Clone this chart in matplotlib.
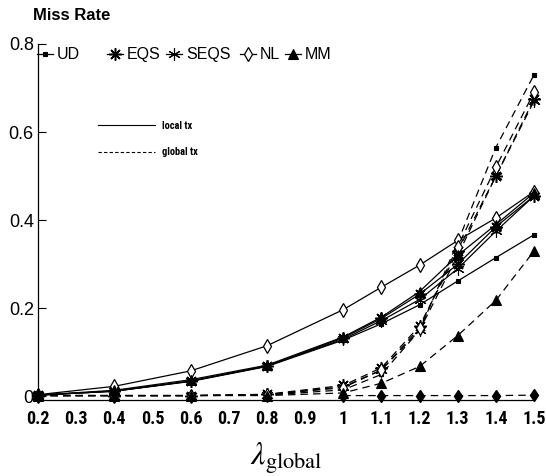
import matplotlib
matplotlib.use('Agg')
import matplotlib.pyplot as plt
from matplotlib.lines import Line2D
from matplotlib import font_manager as fm

# ---- data ----
lam = [0.2, 0.4, 0.6, 0.8, 1.0, 1.1, 1.2, 1.3, 1.4, 1.5]
methods = ['UD', 'EQS', 'SEQS', 'NL', 'MM']

ud_local   = [0.003, 0.012, 0.034, 0.068, 0.128, 0.165, 0.208, 0.262, 0.315, 0.367]
eqs_local  = [0.003, 0.012, 0.035, 0.069, 0.133, 0.177, 0.232, 0.300, 0.385, 0.455]
seqs_local = [0.003, 0.012, 0.035, 0.069, 0.130, 0.172, 0.220, 0.290, 0.375, 0.455]
nl_local   = [0.004, 0.023, 0.058, 0.115, 0.197, 0.248, 0.298, 0.354, 0.405, 0.465]
mm_local   = [0.003, 0.014, 0.038, 0.071, 0.135, 0.180, 0.238, 0.320, 0.390, 0.462]

ud_global   = [0.002, 0.002, 0.002, 0.003, 0.015, 0.050, 0.150, 0.350, 0.565, 0.730]
eqs_global  = [0.002, 0.002, 0.002, 0.005, 0.025, 0.065, 0.160, 0.330, 0.500, 0.675]
seqs_global = [0.002, 0.002, 0.002, 0.004, 0.022, 0.060, 0.150, 0.320, 0.500, 0.670]
nl_global   = [0.002, 0.002, 0.002, 0.004, 0.020, 0.060, 0.155, 0.340, 0.520, 0.690]
mm_global   = [0.002, 0.002, 0.002, 0.002, 0.008, 0.030, 0.068, 0.138, 0.218, 0.330]

flat_x = [1.0, 1.1, 1.2, 1.3, 1.4, 1.5]
flat_y = [0.002, 0.002, 0.002, 0.002, 0.002, 0.003]

xticks = [0.2, 0.3, 0.4, 0.5, 0.6, 0.7, 0.8, 0.9, 1.0, 1.1, 1.2, 1.3, 1.4, 1.5]
xticklabels = ['0.2', '0.3', '0.4', '0.5', '0.6', '0.7', '0.8', '0.9', '1',
               '1.1', '1.2', '1.3', '1.4', '1.5']
yticks = [0, 0.2, 0.4, 0.6, 0.8]
yticklabels = ['0', '0.2', '0.4', '0.6', '0.8']


def pick(cands):
    for c in cands:
        try:
            fm.findfont(fm.FontProperties(family=c), fallback_to_default=False)
            return c
        except Exception:
            pass
    return 'DejaVu Sans'


NARROW = pick(['Liberation Sans Narrow', 'Roboto Condensed', 'DejaVu Sans Condensed',
               'Liberation Sans'])
HELV = pick(['Liberation Sans', 'Arial', 'DejaVu Sans'])
plt.rcParams['font.family'] = [HELV, 'DejaVu Sans']
plt.rcParams['mathtext.fontset'] = 'stix'

fig = plt.figure(figsize=(5.46, 4.76), dpi=100)
ax = fig.add_axes([0.0696, 0.1597, 0.9084, 0.7479])

styles = {
    'UD':   dict(marker='s', ms=3.0, mfc='black', mec='black', mew=0.8),
    'EQS':  dict(marker=(8, 2, 0), ms=9, mec='black', mew=1.1),
    'SEQS': dict(marker=(6, 2, 0), ms=9, mec='black', mew=0.8),
    'NL':   dict(marker='d', ms=7, mfc='white', mec='black', mew=0.9),
    'MM':   dict(marker='^', ms=7, mfc='black', mec='black', mew=0.8),
}
local = {'UD': ud_local, 'EQS': eqs_local, 'SEQS': seqs_local, 'NL': nl_local, 'MM': mm_local}
glob = {'UD': ud_global, 'EQS': eqs_global, 'SEQS': seqs_global, 'NL': nl_global, 'MM': mm_global}

handles = []
for m in methods:
    h, = ax.plot(lam, local[m], color='black', lw=0.9, ls='-', clip_on=False,
                 zorder=3, **styles[m])
    handles.append(h)
    ax.plot(lam, glob[m], color='black', lw=0.9, ls=(0, (6, 4)), clip_on=False,
            zorder=3, **styles[m])

ax.plot(flat_x, flat_y, color='black', lw=0.9, ls=(0, (6, 4)), marker='d', ms=6,
        mfc='black', mec='black', clip_on=False, zorder=3)

ax.set_xlim(0.2, 1.5)
ax.set_ylim(-0.008, 0.8)
ax.spines['top'].set_visible(False)
ax.spines['right'].set_visible(False)
ax.spines['left'].set_linewidth(0.9)
ax.spines['bottom'].set_linewidth(0.9)

ax.set_xticks(xticks)
ax.set_xticklabels(xticklabels)
ax.set_yticks(yticks)
ax.set_yticklabels(yticklabels)
ax.tick_params(axis='x', length=0, pad=7)
ax.tick_params(axis='y', direction='in', length=6, width=0.8, pad=3)
for t in ax.get_xticklabels():
    t.set_fontfamily([NARROW, 'DejaVu Sans'])
    t.set_fontweight('bold')
    t.set_fontsize(13)
for t in ax.get_yticklabels():
    t.set_fontsize(13)

fig.text(0.060, 0.967, 'Miss Rate', fontsize=12, fontweight='bold', ha='left', va='center')

ax.set_xlabel(r'$\lambda_{\mathrm{global}}$', fontsize=23, labelpad=9)

# legend entries placed individually (marker centres)
leg_px = [37, 107, 166, 240, 285]
for h, m, px in zip(handles, methods, leg_px):
    lg = fig.legend([h], [m], loc='center left', bbox_to_anchor=(px / 546.0, 0.8845),
                    frameon=False, handlelength=1.0, handletextpad=0.25,
                    borderpad=0, borderaxespad=0,
                    prop={'size': 11.5, 'family': [HELV, 'DejaVu Sans']})

lh = [Line2D([0], [0], color='black', lw=0.8, ls='-'),
      Line2D([0], [0], color='black', lw=0.8, ls=(0, (3, 2)))]
leg2 = ax.legend(lh, ['local tx', 'global tx'], loc='center left',
                 bbox_to_anchor=(0.170, 0.708), bbox_transform=fig.transFigure,
                 frameon=False, handlelength=5.5, handletextpad=0.6,
                 labelspacing=1.6, borderpad=0,
                 prop={'weight': 'bold', 'size': 7.5, 'family': [NARROW, 'DejaVu Sans']})

fig.savefig('out.png', dpi=100)
